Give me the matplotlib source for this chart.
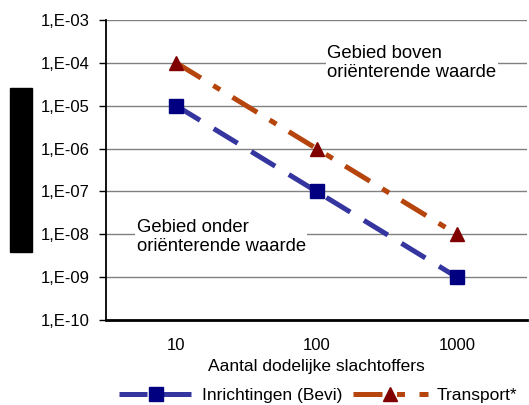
import matplotlib.pyplot as plt
from matplotlib.patches import Rectangle

plt.rcParams['font.family'] = ['Liberation Sans', 'DejaVu Sans']

slachtoffers = ['10', '100', '1000']
inrichtingen = [1e-5, 1e-7, 1e-9]
transport = [1e-4, 1e-6, 1e-8]
y_ticks = [1e-3, 1e-4, 1e-5, 1e-6, 1e-7, 1e-8, 1e-9, 1e-10]
y_labels = ['1,E-03', '1,E-04', '1,E-05', '1,E-06', '1,E-07', '1,E-08', '1,E-09', '1,E-10']

fig = plt.figure(figsize=(5.29, 4.05), dpi=100)
ax = fig.add_axes([106 / 529, 1 - 320 / 405, 421 / 529, 300 / 405])

ax.plot(slachtoffers, inrichtingen, color='#3535a0', lw=3.6, dashes=(5.6, 3.2),
        marker='s', ms=9.5, mfc='#000080', mec='#000080', label='Inrichtingen (Bevi)')
ax.plot(slachtoffers, transport, color='#b5450c', lw=3.6, dashes=(5.8, 2.9, 1.6, 2.9),
        marker='^', ms=10.5, mfc='#800000', mec='#800000', label='Transport*')

ax.set_yscale('log')
ax.set_ylim(1e-10, 1e-3)
ax.set_xlim(-0.5, 2.5)
ax.set_yticks(y_ticks)
ax.set_yticklabels(y_labels)
ax.yaxis.set_minor_locator(plt.NullLocator())
ax.grid(axis='y', color='#808080', lw=1)
ax.set_axisbelow(True)
for s in ['top', 'right']:
    ax.spines[s].set_visible(False)
ax.spines['left'].set_linewidth(1.3)
ax.spines['bottom'].set_linewidth(2)
ax.tick_params(axis='y', length=5, width=1, labelsize=12, pad=7)
ax.tick_params(axis='x', length=0, labelsize=12, pad=13)
ax.set_xlabel('Aantal dodelijke slachtoffers', fontsize=12.5, labelpad=4)

ax.text(1.075, 1e-4, 'Gebied boven\noriënterende waarde', fontsize=13.3,
        ha='left', va='center', linespacing=1.15,
        bbox=dict(facecolor='white', edgecolor='none', pad=1))
ax.text(-0.28, 8.7e-9, 'Gebied onder\noriënterende waarde', fontsize=13.3,
        ha='left', va='center', linespacing=1.15,
        bbox=dict(facecolor='white', edgecolor='none', pad=1))

fig.legend(*ax.get_legend_handles_labels(), loc='center',
           bbox_to_anchor=(318 / 529, 10 / 405), ncol=2, frameon=False,
           fontsize=12.5, handlelength=4.3, columnspacing=0.6, handletextpad=0.5,
           borderpad=0, borderaxespad=0)

fig.patches.append(Rectangle((10 / 529, 1 - 252 / 405), 22 / 529, 164 / 405,
                             transform=fig.transFigure, color='black'))

fig.savefig('out.png', dpi=100)
